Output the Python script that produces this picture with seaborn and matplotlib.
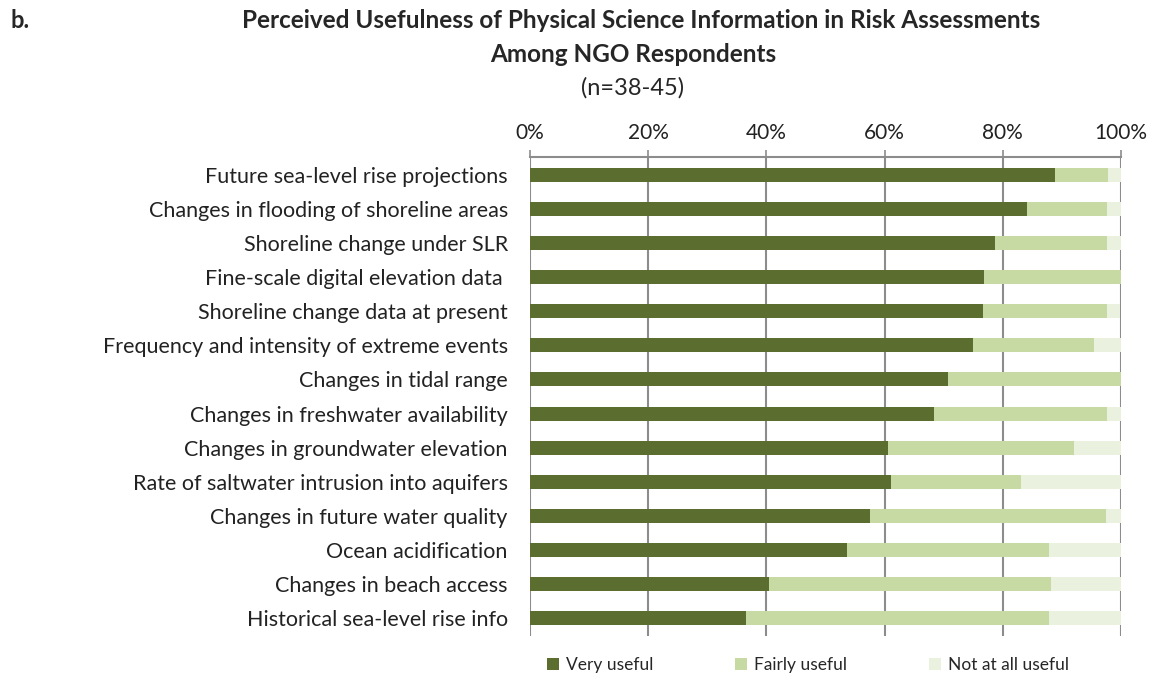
import matplotlib
matplotlib.use("Agg")
import matplotlib.pyplot as plt
from matplotlib.patches import Patch
import seaborn as sns
import pandas as pd

categories = [
    "Future sea-level rise projections",
    "Changes in flooding of shoreline areas",
    "Shoreline change under SLR",
    "Fine-scale digital elevation data ",
    "Shoreline change data at present",
    "Frequency and intensity of extreme events",
    "Changes in tidal range",
    "Changes in freshwater availability",
    "Changes in groundwater elevation",
    "Rate of saltwater intrusion into aquifers",
    "Changes in future water quality",
    "Ocean acidification",
    "Changes in beach access",
    "Historical sea-level rise info",
]
very_useful = [88.9, 84.1, 78.6, 76.9, 76.7, 75.0, 70.7, 68.3, 60.5, 61.0, 57.5, 53.7, 40.5, 36.6]
fairly_useful = [8.9, 13.6, 19.0, 23.1, 20.9, 20.5, 29.3, 29.3, 31.6, 22.0, 40.0, 34.1, 47.6, 51.2]
not_useful = [2.2, 2.3, 2.4, 0.0, 2.3, 4.5, 0.0, 2.4, 7.9, 17.1, 2.5, 12.2, 11.9, 12.2]
series_names = ["Very useful", "Fairly useful", "Not at all useful"]
colors = ["#5B6E30", "#C7DAA3", "#EBF1DF"]

df = pd.DataFrame({"cat": categories, "very": very_useful,
                   "fairly": fairly_useful, "not": not_useful})
df["c1"] = df["very"]
df["c2"] = df["very"] + df["fairly"]
df["c3"] = df["c2"] + df["not"]

sns.set_theme(style="white")
plt.rcParams["font.family"] = ["Lato", "DejaVu Sans"]

fig = plt.figure(figsize=(11.53, 6.78), dpi=100)
ax = fig.add_axes([530 / 1153, 1 - 636 / 678, (1121 - 530) / 1153, (636 - 157) / 678])

for col, c in zip(["c3", "c2", "c1"], colors[::-1]):
    sns.barplot(data=df, x=col, y="cat", orient="h", color=c, width=0.41,
                saturation=1, ax=ax, linewidth=0, zorder=3)

ax.set_xlim(0, 100)
ax.set_xticks([0, 20, 40, 60, 80, 100])
ax.set_xticklabels([f"{t}%" for t in [0, 20, 40, 60, 80, 100]], fontsize=15, color="#222222")
ax.xaxis.tick_top()
ax.xaxis.set_label_position("top")
ax.tick_params(axis="x", length=5, color="#8c8c8c", width=1.2, pad=5, top=True, bottom=False)
ax.tick_params(axis="y", length=0, pad=16, labelsize=15.5, labelcolor="#222222")
ax.set_xlabel("")
ax.set_ylabel("")
ax.grid(axis="x", color="#8c8c8c", linewidth=1.5, zorder=0)
ax.set_axisbelow(True)
for s in ["bottom", "left", "right"]:
    ax.spines[s].set_visible(False)
ax.spines["top"].set_color("#8c8c8c")
ax.spines["top"].set_linewidth(1.5)
ax.set_ylim(len(categories) - 0.47, -0.53)

fig.text(10 / 1153, 1 - 20 / 678, "b.", fontsize=17, fontweight="bold", va="center", ha="left")
fig.text(641 / 1153, 1 - 20 / 678, "Perceived Usefulness of Physical Science Information in Risk Assessments",
         fontsize=17.5, fontweight="bold", va="center", ha="center")
fig.text(633 / 1153, 1 - 54 / 678, "Among NGO Respondents",
         fontsize=17.5, fontweight="bold", va="center", ha="center")
fig.text(633 / 1153, 1 - 88 / 678, "(n=38-45)", fontsize=17, va="center", ha="center")

handles = [Patch(facecolor=c, edgecolor="none", label=n) for c, n in zip(colors, series_names)]
fig.legend(handles=handles, loc="center", bbox_to_anchor=(808 / 1153, 1 - 665 / 678), ncol=3,
           frameon=False, fontsize=12.5, handlelength=0.7, handleheight=0.7,
           handletextpad=0.4, columnspacing=4.7)

fig.savefig("out.png", dpi=100)
